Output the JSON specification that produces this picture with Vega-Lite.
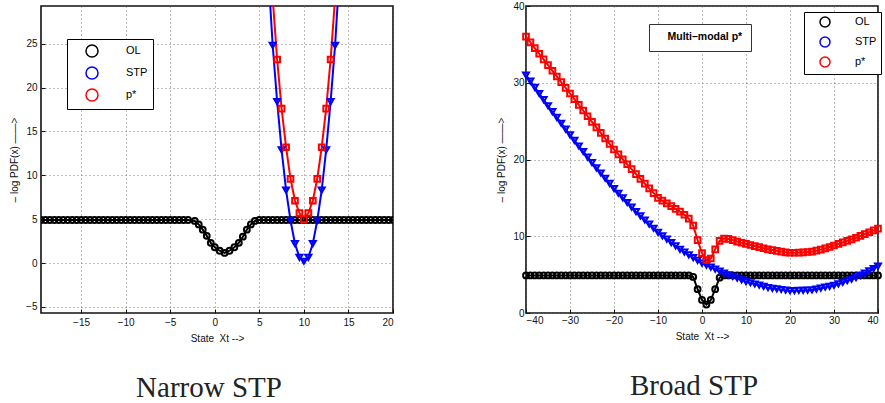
{
"$schema": "https://vega.github.io/schema/vega-lite/v6.json",
"padding": {"left": 8, "top": 0, "right": 0, "bottom": 0},
"bounds": "flush",
"spacing": 133,
"resolve": {"scale": {"color": "independent", "shape": "independent", "size": "independent", "strokeDash": "independent"}, "legend": {"color": "independent", "shape": "independent", "size": "independent", "strokeDash": "independent"}},
"config": {
  "font": "Liberation Sans",
  "view": {"stroke": "#111", "strokeWidth": 1.6},
  "axis": {"domain": false, "grid": true, "gridColor": "#666", "gridDash": [1, 3], "gridWidth": 0.9,
    "labelFontSize": 10, "labelColor": "#111", "titleFontSize": 10, "titleFontWeight": "normal", "titleColor": "#111",
    "tickColor": "#111", "tickSize": -4, "labelPadding": 8}
},
"datasets": {
"narrow": [
{"s":"OL","x":-19.5,"y":4.9},{"s":"OL","x":-19,"y":4.9},{"s":"OL","x":-18.5,"y":4.9},{"s":"OL","x":-18,"y":4.9},{"s":"OL","x":-17.5,"y":4.9},{"s":"OL","x":-17,"y":4.9},{"s":"OL","x":-16.5,"y":4.9},{"s":"OL","x":-16,"y":4.9},{"s":"OL","x":-15.5,"y":4.9},{"s":"OL","x":-15,"y":4.9},{"s":"OL","x":-14.5,"y":4.9},{"s":"OL","x":-14,"y":4.9},{"s":"OL","x":-13.5,"y":4.9},{"s":"OL","x":-13,"y":4.9},{"s":"OL","x":-12.5,"y":4.9},{"s":"OL","x":-12,"y":4.9},{"s":"OL","x":-11.5,"y":4.9},{"s":"OL","x":-11,"y":4.9},{"s":"OL","x":-10.5,"y":4.9},{"s":"OL","x":-10,"y":4.9},{"s":"OL","x":-9.5,"y":4.9},{"s":"OL","x":-9,"y":4.9},{"s":"OL","x":-8.5,"y":4.9},{"s":"OL","x":-8,"y":4.9},{"s":"OL","x":-7.5,"y":4.9},{"s":"OL","x":-7,"y":4.9},{"s":"OL","x":-6.5,"y":4.9},{"s":"OL","x":-6,"y":4.9},{"s":"OL","x":-5.5,"y":4.9},{"s":"OL","x":-5,"y":4.9},{"s":"OL","x":-4.5,"y":4.9},{"s":"OL","x":-4,"y":4.9},{"s":"OL","x":-3.5,"y":4.9},{"s":"OL","x":-3,"y":4.9},
{"s":"OL","x":-2.25,"y":4.8},{"s":"OL","x":-1.8,"y":4.4},{"s":"OL","x":-1.35,"y":3.8},{"s":"OL","x":-0.9,"y":3.1},{"s":"OL","x":-0.45,"y":2.3},{"s":"OL","x":0,"y":1.8},{"s":"OL","x":0.55,"y":1.4},{"s":"OL","x":1.1,"y":1.15},{"s":"OL","x":1.65,"y":1.4},{"s":"OL","x":2.2,"y":1.8},{"s":"OL","x":2.7,"y":2.3},{"s":"OL","x":3.15,"y":3.0},{"s":"OL","x":3.6,"y":3.8},{"s":"OL","x":4.05,"y":4.4},{"s":"OL","x":4.5,"y":4.8},
{"s":"OL","x":5,"y":4.9},{"s":"OL","x":5.5,"y":4.9},{"s":"OL","x":6,"y":4.9},{"s":"OL","x":6.5,"y":4.9},{"s":"OL","x":7,"y":4.9},{"s":"OL","x":7.5,"y":4.9},{"s":"OL","x":8,"y":4.9},{"s":"OL","x":8.5,"y":4.9},{"s":"OL","x":9,"y":4.9},{"s":"OL","x":9.5,"y":4.9},{"s":"OL","x":10,"y":4.9},{"s":"OL","x":10.5,"y":4.9},{"s":"OL","x":11,"y":4.9},{"s":"OL","x":11.5,"y":4.9},{"s":"OL","x":12,"y":4.9},{"s":"OL","x":12.5,"y":4.9},{"s":"OL","x":13,"y":4.9},{"s":"OL","x":13.5,"y":4.9},{"s":"OL","x":14,"y":4.9},{"s":"OL","x":14.5,"y":4.9},{"s":"OL","x":15,"y":4.9},{"s":"OL","x":15.5,"y":4.9},{"s":"OL","x":16,"y":4.9},{"s":"OL","x":16.5,"y":4.9},{"s":"OL","x":17,"y":4.9},{"s":"OL","x":17.5,"y":4.9},{"s":"OL","x":18,"y":4.9},{"s":"OL","x":18.5,"y":4.9},{"s":"OL","x":19,"y":4.9},{"s":"OL","x":19.5,"y":4.9},{"s":"OL","x":20,"y":4.9},
{"s":"STP","x":6,"y":33.1},{"s":"STP","x":6.5,"y":24.8},{"s":"STP","x":7,"y":18.4},{"s":"STP","x":7.5,"y":12.9},{"s":"STP","x":8,"y":8.3},{"s":"STP","x":8.5,"y":4.85},{"s":"STP","x":9,"y":2.2},{"s":"STP","x":9.5,"y":0.65},{"s":"STP","x":10,"y":0.2},{"s":"STP","x":10.5,"y":0.65},{"s":"STP","x":11,"y":2.2},{"s":"STP","x":11.5,"y":4.85},{"s":"STP","x":12,"y":8.3},{"s":"STP","x":12.5,"y":12.9},{"s":"STP","x":13,"y":18.4},{"s":"STP","x":13.5,"y":24.8},{"s":"STP","x":14,"y":33.1},
{"s":"p*","x":6,"y":38},{"s":"p*","x":6.5,"y":30.2},{"s":"p*","x":7,"y":23.2},{"s":"p*","x":7.5,"y":17.6},{"s":"p*","x":8,"y":13.2},{"s":"p*","x":8.5,"y":9.6},{"s":"p*","x":9,"y":7.1},{"s":"p*","x":9.5,"y":5.7},{"s":"p*","x":10,"y":5.0},{"s":"p*","x":10.5,"y":5.7},{"s":"p*","x":11,"y":7.1},{"s":"p*","x":11.5,"y":9.6},{"s":"p*","x":12,"y":13.2},{"s":"p*","x":12.5,"y":17.6},{"s":"p*","x":13,"y":23.2},{"s":"p*","x":13.5,"y":30.2},{"s":"p*","x":14,"y":38}
],
"broad": [
{"s":"OL","x":-40,"y":4.9},{"s":"OL","x":-39,"y":4.9},{"s":"OL","x":-38,"y":4.9},{"s":"OL","x":-37,"y":4.9},{"s":"OL","x":-36,"y":4.9},{"s":"OL","x":-35,"y":4.9},{"s":"OL","x":-34,"y":4.9},{"s":"OL","x":-33,"y":4.9},{"s":"OL","x":-32,"y":4.9},{"s":"OL","x":-31,"y":4.9},{"s":"OL","x":-30,"y":4.9},{"s":"OL","x":-29,"y":4.9},{"s":"OL","x":-28,"y":4.9},{"s":"OL","x":-27,"y":4.9},{"s":"OL","x":-26,"y":4.9},{"s":"OL","x":-25,"y":4.9},{"s":"OL","x":-24,"y":4.9},{"s":"OL","x":-23,"y":4.9},{"s":"OL","x":-22,"y":4.9},{"s":"OL","x":-21,"y":4.9},{"s":"OL","x":-20,"y":4.9},{"s":"OL","x":-19,"y":4.9},{"s":"OL","x":-18,"y":4.9},{"s":"OL","x":-17,"y":4.9},{"s":"OL","x":-16,"y":4.9},{"s":"OL","x":-15,"y":4.9},{"s":"OL","x":-14,"y":4.9},{"s":"OL","x":-13,"y":4.9},{"s":"OL","x":-12,"y":4.9},{"s":"OL","x":-11,"y":4.9},{"s":"OL","x":-10,"y":4.9},{"s":"OL","x":-9,"y":4.9},{"s":"OL","x":-8,"y":4.9},{"s":"OL","x":-7,"y":4.9},{"s":"OL","x":-6,"y":4.9},{"s":"OL","x":-5,"y":4.9},{"s":"OL","x":-4,"y":4.9},{"s":"OL","x":-3,"y":4.9},{"s":"OL","x":-2,"y":4.7},{"s":"OL","x":-1,"y":3.1},{"s":"OL","x":0,"y":1.7},{"s":"OL","x":1,"y":1.1},{"s":"OL","x":2,"y":1.7},{"s":"OL","x":3,"y":3.1},{"s":"OL","x":4,"y":4.6},{"s":"OL","x":5,"y":4.9},{"s":"OL","x":6,"y":4.9},{"s":"OL","x":7,"y":4.9},{"s":"OL","x":8,"y":4.9},{"s":"OL","x":9,"y":4.9},{"s":"OL","x":10,"y":4.9},{"s":"OL","x":11,"y":4.9},{"s":"OL","x":12,"y":4.9},{"s":"OL","x":13,"y":4.9},{"s":"OL","x":14,"y":4.9},{"s":"OL","x":15,"y":4.9},{"s":"OL","x":16,"y":4.9},{"s":"OL","x":17,"y":4.9},{"s":"OL","x":18,"y":4.9},{"s":"OL","x":19,"y":4.9},{"s":"OL","x":20,"y":4.9},{"s":"OL","x":21,"y":4.9},{"s":"OL","x":22,"y":4.9},{"s":"OL","x":23,"y":4.9},{"s":"OL","x":24,"y":4.9},{"s":"OL","x":25,"y":4.9},{"s":"OL","x":26,"y":4.9},{"s":"OL","x":27,"y":4.9},{"s":"OL","x":28,"y":4.9},{"s":"OL","x":29,"y":4.9},{"s":"OL","x":30,"y":4.9},{"s":"OL","x":31,"y":4.9},{"s":"OL","x":32,"y":4.9},{"s":"OL","x":33,"y":4.9},{"s":"OL","x":34,"y":4.9},{"s":"OL","x":35,"y":4.9},{"s":"OL","x":36,"y":4.9},{"s":"OL","x":37,"y":4.9},{"s":"OL","x":38,"y":4.9},{"s":"OL","x":39,"y":4.9},{"s":"OL","x":40,"y":4.9},
{"s":"STP","x":-40,"y":31.0},{"s":"STP","x":-39,"y":30.2},{"s":"STP","x":-38,"y":29.4},{"s":"STP","x":-37,"y":28.6},{"s":"STP","x":-36,"y":27.8},{"s":"STP","x":-35,"y":27.0},{"s":"STP","x":-34,"y":26.24},{"s":"STP","x":-33,"y":25.48},{"s":"STP","x":-32,"y":24.72},{"s":"STP","x":-31,"y":23.96},{"s":"STP","x":-30,"y":23.2},{"s":"STP","x":-29,"y":22.48},{"s":"STP","x":-28,"y":21.76},{"s":"STP","x":-27,"y":21.04},{"s":"STP","x":-26,"y":20.32},{"s":"STP","x":-25,"y":19.6},{"s":"STP","x":-24,"y":18.92},{"s":"STP","x":-23,"y":18.24},{"s":"STP","x":-22,"y":17.56},{"s":"STP","x":-21,"y":16.88},{"s":"STP","x":-20,"y":16.2},{"s":"STP","x":-19,"y":15.6},{"s":"STP","x":-18,"y":15.0},{"s":"STP","x":-17,"y":14.4},{"s":"STP","x":-16,"y":13.8},{"s":"STP","x":-15,"y":13.2},{"s":"STP","x":-14,"y":12.66},{"s":"STP","x":-13,"y":12.12},{"s":"STP","x":-12,"y":11.58},{"s":"STP","x":-11,"y":11.04},{"s":"STP","x":-10,"y":10.5},{"s":"STP","x":-9,"y":10.06},{"s":"STP","x":-8,"y":9.62},{"s":"STP","x":-7,"y":9.18},{"s":"STP","x":-6,"y":8.74},{"s":"STP","x":-5,"y":8.3},{"s":"STP","x":-4,"y":7.94},{"s":"STP","x":-3,"y":7.58},{"s":"STP","x":-2,"y":7.22},{"s":"STP","x":-1,"y":6.86},{"s":"STP","x":0,"y":6.5},{"s":"STP","x":1,"y":6.24},{"s":"STP","x":2,"y":5.98},{"s":"STP","x":3,"y":5.72},{"s":"STP","x":4,"y":5.46},{"s":"STP","x":5,"y":5.2},{"s":"STP","x":6,"y":4.98},{"s":"STP","x":7,"y":4.76},{"s":"STP","x":8,"y":4.54},{"s":"STP","x":9,"y":4.32},{"s":"STP","x":10,"y":4.1},{"s":"STP","x":11,"y":3.94},{"s":"STP","x":12,"y":3.78},{"s":"STP","x":13,"y":3.62},{"s":"STP","x":14,"y":3.46},{"s":"STP","x":15,"y":3.3},{"s":"STP","x":16,"y":3.22},{"s":"STP","x":17,"y":3.14},{"s":"STP","x":18,"y":3.06},{"s":"STP","x":19,"y":2.98},{"s":"STP","x":20,"y":2.9},{"s":"STP","x":21,"y":2.92},{"s":"STP","x":22,"y":2.94},{"s":"STP","x":23,"y":2.96},{"s":"STP","x":24,"y":2.98},{"s":"STP","x":25,"y":3.0},{"s":"STP","x":26,"y":3.12},{"s":"STP","x":27,"y":3.24},{"s":"STP","x":28,"y":3.36},{"s":"STP","x":29,"y":3.48},{"s":"STP","x":30,"y":3.6},{"s":"STP","x":31,"y":3.8},{"s":"STP","x":32,"y":4.0},{"s":"STP","x":33,"y":4.2},{"s":"STP","x":34,"y":4.4},{"s":"STP","x":35,"y":4.6},{"s":"STP","x":36,"y":4.9},{"s":"STP","x":37,"y":5.2},{"s":"STP","x":38,"y":5.5},{"s":"STP","x":39,"y":5.8},{"s":"STP","x":40,"y":6.1},
{"s":"p*","x":-40,"y":36.0},{"s":"p*","x":-39,"y":35.26},{"s":"p*","x":-38,"y":34.52},{"s":"p*","x":-37,"y":33.78},{"s":"p*","x":-36,"y":33.04},{"s":"p*","x":-35,"y":32.3},{"s":"p*","x":-34,"y":31.56},{"s":"p*","x":-33,"y":30.82},{"s":"p*","x":-32,"y":30.08},{"s":"p*","x":-31,"y":29.34},{"s":"p*","x":-30,"y":28.6},{"s":"p*","x":-29,"y":27.86},{"s":"p*","x":-28,"y":27.12},{"s":"p*","x":-27,"y":26.38},{"s":"p*","x":-26,"y":25.64},{"s":"p*","x":-25,"y":24.9},{"s":"p*","x":-24,"y":24.18},{"s":"p*","x":-23,"y":23.46},{"s":"p*","x":-22,"y":22.74},{"s":"p*","x":-21,"y":22.02},{"s":"p*","x":-20,"y":21.3},{"s":"p*","x":-19,"y":20.66},{"s":"p*","x":-18,"y":20.02},{"s":"p*","x":-17,"y":19.38},{"s":"p*","x":-16,"y":18.74},{"s":"p*","x":-15,"y":18.1},{"s":"p*","x":-14,"y":17.48},{"s":"p*","x":-13,"y":16.86},{"s":"p*","x":-12,"y":16.24},{"s":"p*","x":-11,"y":15.62},{"s":"p*","x":-10,"y":15.0},{"s":"p*","x":-9,"y":14.64},{"s":"p*","x":-8,"y":14.28},{"s":"p*","x":-7,"y":13.92},{"s":"p*","x":-6,"y":13.56},{"s":"p*","x":-5,"y":13.2},{"s":"p*","x":-4,"y":12.8},{"s":"p*","x":-3,"y":12.3},{"s":"p*","x":-2,"y":11.4},{"s":"p*","x":-1,"y":9.5},{"s":"p*","x":0,"y":7.8},{"s":"p*","x":1,"y":6.9},{"s":"p*","x":2,"y":7.1},{"s":"p*","x":3,"y":8.3},{"s":"p*","x":4,"y":9.4},{"s":"p*","x":5,"y":9.7},{"s":"p*","x":6,"y":9.65},{"s":"p*","x":7,"y":9.5},{"s":"p*","x":8,"y":9.3},{"s":"p*","x":9,"y":9.15},{"s":"p*","x":10,"y":9.0},{"s":"p*","x":11,"y":8.86},{"s":"p*","x":12,"y":8.72},{"s":"p*","x":13,"y":8.58},{"s":"p*","x":14,"y":8.44},{"s":"p*","x":15,"y":8.3},{"s":"p*","x":16,"y":8.2},{"s":"p*","x":17,"y":8.1},{"s":"p*","x":18,"y":8.0},{"s":"p*","x":19,"y":7.9},{"s":"p*","x":20,"y":7.85},{"s":"p*","x":21,"y":7.85},{"s":"p*","x":22,"y":7.87},{"s":"p*","x":23,"y":7.9},{"s":"p*","x":24,"y":7.95},{"s":"p*","x":25,"y":8.0},{"s":"p*","x":26,"y":8.12},{"s":"p*","x":27,"y":8.26},{"s":"p*","x":28,"y":8.42},{"s":"p*","x":29,"y":8.6},{"s":"p*","x":30,"y":8.8},{"s":"p*","x":31,"y":9.0},{"s":"p*","x":32,"y":9.2},{"s":"p*","x":33,"y":9.4},{"s":"p*","x":34,"y":9.6},{"s":"p*","x":35,"y":9.8},{"s":"p*","x":36,"y":10.04},{"s":"p*","x":37,"y":10.28},{"s":"p*","x":38,"y":10.52},{"s":"p*","x":39,"y":10.76},{"s":"p*","x":40,"y":11.0}
]
},
"hconcat": [
{
  "width": 352, "height": 307,
  "data": {"name": "narrow"},
  "title": {"text": "Narrow STP", "orient": "bottom", "font": "Liberation Serif", "fontSize": 29, "fontWeight": "normal", "color": "#222", "offset": 31, "dx": -8},
  "layer": [
    {"mark": {"type": "line", "clip": true, "strokeWidth": 2},
     "encoding": {
       "x": {"field": "x", "type": "quantitative", "scale": {"domain": [-19.5, 20], "nice": false, "zero": false},
             "axis": {"values": [-15, -10, -5, 0, 5, 10, 15, 20], "title": "State\u00a0 Xt -->", "titlePadding": 6}},
       "y": {"field": "y", "type": "quantitative", "scale": {"domain": [-5.7, 29.3], "nice": false, "zero": false},
             "axis": {"values": [-5, 0, 5, 10, 15, 20, 25], "title": "\u2013 log PDF(x) \u2014\u2014>", "titlePadding": 6}},
       "color": {"field": "s", "type": "nominal", "scale": {"domain": ["OL", "STP", "p*"], "range": ["#000000", "#0000ff", "#ff0000"]}}
     }},
    {"mark": {"type": "point", "clip": true, "strokeWidth": 2, "filled": false, "opacity": 1},
     "encoding": {
       "x": {"field": "x", "type": "quantitative"},
       "y": {"field": "y", "type": "quantitative"},
       "color": {"field": "s", "type": "nominal",
         "legend": {"orient": "none", "legendX": 26, "legendY": 33, "title": null, "strokeColor": "#000", "fillColor": "#fff",
           "padding": 5, "labelFontSize": 11, "labelColor": "#000", "symbolSize": 144, "symbolOffset": 13, "labelOffset": 27, "rowPadding": 4,
           "encode": {"symbols": {
             "shape": {"signal": "datum.value === 'OL' ? 'M-3,0L3,0M0.5,0A0.5,0.5,0,1,1,-0.5,0A0.5,0.5,0,1,1,0.5,0' : datum.value === 'STP' ? 'M-3,0L3,0M-0.7,-0.45L0.7,-0.45L0,0.75Z' : 'M-3,0L3,0M-0.45,-0.45L0.45,-0.45L0.45,0.45L-0.45,0.45Z'"},
             "fill": {"value": "transparent"}, "strokeWidth": {"value": 2}}}}},
       "shape": {"field": "s", "type": "nominal", "scale": {"domain": ["STP", "OL", "p*"], "range": ["triangle-down", "circle", "square"]}, "legend": null},
       "size": {"field": "s", "type": "nominal", "scale": {"domain": ["p*", "OL", "STP"], "range": [32, 36, 70]}, "legend": null}
     }}
  ]
},
{
  "width": 352, "height": 307,
  "data": {"name": "broad"},
  "title": {"text": "Broad STP", "orient": "bottom", "font": "Liberation Serif", "fontSize": 29, "fontWeight": "normal", "color": "#222", "offset": 31, "dx": -8},
  "layer": [
    {"mark": {"type": "line", "strokeWidth": 2},
     "encoding": {
       "x": {"field": "x", "type": "quantitative", "scale": {"domain": [-40, 40], "nice": false, "zero": false},
             "axis": {"values": [-40, -30, -20, -10, 0, 10, 20, 30, 40], "title": "State\u00a0 Xt -->", "titlePadding": 6, "labelPadding": 6}},
       "y": {"field": "y", "type": "quantitative", "scale": {"domain": [0, 40], "nice": false, "zero": false},
             "axis": {"values": [0, 5, 10, 15, 20, 25, 30, 35, 40], "title": "\u2013 log PDF(x) \u2014\u2014>", "titlePadding": 6, "labelPadding": 6}},
       "color": {"field": "s", "type": "nominal", "scale": {"domain": ["OL", "STP", "p*"], "range": ["#000000", "#0000ff", "#ff0000"]}},
       "strokeDash": {"datum": "Multi\u2013modal p*", "scale": {"range": [[1, 0]]},
         "legend": {"orient": "none", "legendX": 123, "legendY": 18, "title": null, "strokeColor": "#333", "fillColor": "#fff",
           "padding": 8, "labelFontSize": 10.5, "labelFontWeight": "bold", "labelColor": "#000", "symbolSize": 0, "symbolOpacity": 0, "symbolStrokeWidth": 0, "labelOffset": 0}}
     }},
    {"mark": {"type": "point", "strokeWidth": 2, "filled": false, "opacity": 1},
     "encoding": {
       "x": {"field": "x", "type": "quantitative"},
       "y": {"field": "y", "type": "quantitative"},
       "color": {"field": "s", "type": "nominal",
         "legend": {"orient": "none", "legendX": 278, "legendY": 6, "title": null, "strokeColor": "#000", "fillColor": "#fff",
           "padding": 4, "labelFontSize": 11, "labelColor": "#000", "symbolSize": 100, "symbolOffset": 11, "labelOffset": 24, "rowPadding": 4,
           "encode": {"symbols": {
             "shape": {"signal": "datum.value === 'OL' ? 'M-3.16,0L3.16,0M0.6,0A0.6,0.6,0,1,1,-0.6,0A0.6,0.6,0,1,1,0.6,0' : datum.value === 'STP' ? 'M-3.16,0L3.16,0M-0.84,-0.54L0.84,-0.54L0,0.9Z' : 'M-3.16,0L3.16,0M-0.54,-0.54L0.54,-0.54L0.54,0.54L-0.54,0.54Z'"},
             "fill": {"value": "transparent"}, "strokeWidth": {"value": 2}}}}},
       "shape": {"field": "s", "type": "nominal", "scale": {"domain": ["STP", "OL", "p*"], "range": ["triangle-down", "circle", "square"]}, "legend": null},
       "size": {"field": "s", "type": "nominal", "scale": {"domain": ["p*", "OL", "STP"], "range": [32, 36, 70]}, "legend": null}
     }}
  ]
}
]
}
